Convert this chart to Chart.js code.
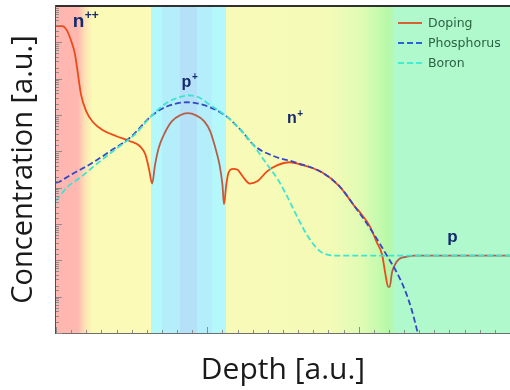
<!DOCTYPE html>
<html>
<head>
<meta charset="utf-8">
<script src="https://cdn.jsdelivr.net/npm/chart.js@4.4.0/dist/chart.umd.min.js"></script>
<style>
  html, body { margin: 0; padding: 0; background: #fff; }
  #wrap { width: 510px; height: 390px; }
</style>
</head>
<body>
<div id="wrap"><canvas id="chart"></canvas></div>
<script>
// depth (a.u., 0..3) and concentration (a.u., log axis)
const dopingX = [0, 0.04, 0.07, 0.10, 0.125, 0.145, 0.165, 0.20, 0.245, 0.31,
  0.40, 0.49, 0.555, 0.59, 0.615, 0.635, 0.655, 0.68, 0.72, 0.765,
  0.82, 0.87, 0.925, 0.98, 1.02, 1.05, 1.08, 1.10, 1.11, 1.125,
  1.14, 1.17, 1.20, 1.235, 1.28, 1.33, 1.395, 1.46, 1.545, 1.61,
  1.76, 1.875, 1.975, 2.01, 2.075, 2.12, 2.155, 2.175, 2.195, 2.205,
  2.22, 2.24, 2.27, 2.32, 2.37, 3.0];
const dopingY = [2.8e8, 2.8e8, 2.2e8, 1.1e8, 4.8e7, 1.35e7, 3.7e6, 1.26e6, 6.3e5, 3.8e5,
  2.6e5, 1.9e5, 1.38e5, 8.3e4, 3.2e4, 1.3e4, 4.4e4, 1.3e5, 3.3e5, 6.7e5,
  9.8e5, 1.12e6, 9.8e5, 6.7e5, 3.5e5, 1.38e5, 4.4e4, 1.2e4, 3.5e3, 1.2e4,
  2.6e4, 3.3e4, 3.1e4, 2.0e4, 1.3e4, 1.5e4, 2.8e4, 4.1e4, 5.0e4, 4.4e4,
  2.6e4, 1.07e4, 3.0e3, 2.05e3, 850, 310, 143, 46, 18.6, 18.6,
  46, 76, 110, 126, 134, 135];

const phosX = [0, 0.026, 0.06, 0.125, 0.225, 0.357, 0.49, 0.635, 0.735, 0.865,
  1.0, 1.125, 1.215, 1.315, 1.445, 1.58, 1.76, 1.875, 1.975, 2.09,
  2.195, 2.26, 2.305, 2.35, 2.39, 2.43];
const phosY = [1.38e4, 1.48e4, 1.8e4, 2.6e4, 4.4e4, 1.0e5, 2.4e5, 9.8e5, 1.74e6, 2.24e6,
  1.74e6, 9.3e5, 4.1e5, 1.38e5, 7.2e4, 5.0e4, 2.6e4, 1.07e4, 3.0e3, 615,
  118, 40, 15.5, 4.4, 1, 0.18];

const boronX = [0, 0.026, 0.07, 0.16, 0.29, 0.42, 0.52, 0.635, 0.735, 0.82,
  0.87, 0.94, 1.02, 1.125, 1.215, 1.315, 1.38, 1.465, 1.53, 1.58,
  1.665, 1.72, 1.76, 1.845, 3.0];
const boronY = [4.4e3, 6e3, 1.0e4, 1.9e4, 5.3e4, 1.38e5, 2.9e5, 9.8e5, 2.2e6, 3.1e6,
  3.5e6, 3.1e6, 1.86e6, 9.3e5, 4.1e5, 1.3e5, 5.3e4, 1.7e4, 5.5e3, 2.05e3,
  450, 224, 162, 135, 135];

// p-type stretches of depth (doping drawn in a browner tone there)
const pRanges = [[0.635, 1.11], [2.2, 3.0]];

// region labels
const regionText = ['n', 'p', 'n', 'p'];
const regionSup = ['++', '+', '+', ''];

const toPoints = (xs, ys) => xs.map((x, i) => ({ x, y: ys[i] }));
const inP = v => pRanges.some(r => v >= r[0] && v <= r[1]);

// background: colour stops along depth
const bgStops = [
  [0, '#ffb6b0'], [0.145, '#ffb8b0'], [0.19, '#fde2b4'], [0.24, '#fbfab7'],
  [0.63, '#fbfab7'], [0.63, '#b4f8fc'], [0.70, '#b4f8fc'], [0.70, '#b4eefa'],
  [0.82, '#b4eefa'], [0.82, '#b4e0f8'], [0.93, '#b4e0f8'], [0.93, '#b4eefa'],
  [1.03, '#b4eefa'], [1.03, '#b4f8fc'], [1.123, '#b4f8fc'], [1.123, '#f8fbb7'],
  [1.8, '#f4fbb7'], [2.02, '#e0fbb4'], [2.12, '#c8fbb0'], [2.2, '#b6f8a8'],
  [2.25, '#b0f9cc'], [3.0, '#b0f9cc']
];

const bands = {
  id: 'bands',
  beforeDatasetsDraw(chart) {
    const { ctx, chartArea: a, scales: { x } } = chart;
    const g = ctx.createLinearGradient(a.left, 0, a.right, 0);
    bgStops.forEach(([v, c]) => {
      const f = (x.getPixelForValue(v) - a.left) / (a.right - a.left);
      g.addColorStop(Math.min(1, Math.max(0, f)), c);
    });
    ctx.save();
    ctx.fillStyle = g;
    ctx.fillRect(a.left, a.top, a.right - a.left, a.bottom - a.top);
    ctx.restore();
  }
};

const decor = {
  id: 'decor',
  afterDraw(chart) {
    const { ctx, chartArea: a, scales: { x, y } } = chart;
    ctx.save();
    // inward ticks
    ctx.strokeStyle = '#8c8c8c';
    ctx.lineWidth = 1;
    ctx.beginPath();
    x.ticks.forEach(t => {
      const px = Math.round(x.getPixelForValue(t.value)) + 0.5;
      const len = Math.abs(t.value - Math.round(t.value)) < 1e-6 ? 6 : 3;
      ctx.moveTo(px, a.bottom);
      ctx.lineTo(px, a.bottom - len);
    });
    y.ticks.forEach(t => {
      const py = Math.round(y.getPixelForValue(t.value)) + 0.5;
      const lg = Math.log10(t.value);
      const len = Math.abs(lg - Math.round(lg)) < 1e-6 ? 6 : 3;
      ctx.moveTo(a.left, py);
      ctx.lineTo(a.left + len, py);
    });
    ctx.stroke();
    // top frame line
    ctx.strokeStyle = '#303030';
    ctx.lineWidth = 2;
    ctx.beginPath();
    ctx.moveTo(a.left, a.top);
    ctx.lineTo(a.right, a.top);
    ctx.stroke();

    // region labels
    const lx = [0.11, 0.83, 1.527, 2.585];
    const ly = [2.7e8, 5.9e6, 5.9e5, 325];
    const size = [19, 16, 16, 17];
    ctx.fillStyle = '#152a6c';
    ctx.textBaseline = 'alphabetic';
    regionText.forEach((s, i) => {
      const px = x.getPixelForValue(lx[i]);
      const py = y.getPixelForValue(ly[i]);
      ctx.font = 'bold ' + size[i] + 'px "Liberation Sans", Arial, sans-serif';
      ctx.fillText(s, px, py);
      const w = ctx.measureText(s).width;
      if (regionSup[i]) {
        ctx.font = 'bold ' + Math.round(size[i] * 0.62) + 'px "Liberation Sans", Arial, sans-serif';
        ctx.fillText(regionSup[i], px + w + 0.5, py - size[i] * 0.42);
      }
    });

    // legend
    const lxs = a.right - 112, lys = a.top + 17;
    ctx.font = '12.5px "DejaVu Sans", sans-serif';
    ctx.textBaseline = 'middle';
    chart.data.datasets.forEach((ds, i) => {
      const yy = lys + i * 20;
      ctx.strokeStyle = ds.legendColor;
      ctx.lineWidth = 1.8;
      ctx.setLineDash(ds.borderDash || []);
      ctx.beginPath();
      ctx.moveTo(lxs, yy);
      ctx.lineTo(lxs + 24, yy);
      ctx.stroke();
      ctx.setLineDash([]);
      ctx.fillStyle = '#2b6244';
      ctx.fillText(ds.label, lxs + 30, yy + 0.5);
    });
    ctx.restore();
  }
};

new Chart(document.getElementById('chart'), {
  type: 'line',
  data: {
    datasets: [
      {
        label: 'Doping',
        data: toPoints(dopingX, dopingY),
        borderColor: '#ee4a18',
        legendColor: '#dd5020',
        borderWidth: 1.8,
        segment: {
          borderColor: c => inP((c.p0.parsed.x + c.p1.parsed.x) / 2) ? '#b65e48' : '#ee4a18'
        },
        order: 3
      },
      {
        label: 'Phosphorus',
        data: toPoints(phosX, phosY),
        borderColor: '#3448c8',
        legendColor: '#2a62d8',
        borderWidth: 1.8,
        borderDash: [6, 3],
        order: 2
      },
      {
        label: 'Boron',
        data: toPoints(boronX, boronY),
        borderColor: '#3ee4d2',
        legendColor: '#40eed2',
        borderWidth: 1.8,
        borderDash: [6, 3],
        order: 1
      }
    ]
  },
  options: {
    responsive: true,
    maintainAspectRatio: false,
    animation: false,
    layout: { padding: { top: 6, right: 0, left: 0, bottom: 0 } },
    elements: {
      point: { radius: 0 },
      line: { cubicInterpolationMode: 'monotone', fill: false }
    },
    plugins: {
      legend: { display: false },
      tooltip: { enabled: false }
    },
    scales: {
      x: {
        type: 'linear',
        min: 0,
        max: 3,
        ticks: { display: false, stepSize: 0.1 },
        grid: { display: false },
        border: { color: '#6e6e6e', width: 2 },
        title: {
          display: true,
          text: 'Depth [a.u.]',
          color: '#1a1a1a',
          font: { family: '"Open Sans", sans-serif', size: 30 },
          padding: { top: 0, bottom: 2 }
        },
        afterFit: s => { s.height = 57; }
      },
      y: {
        type: 'logarithmic',
        min: 1,
        max: 1e9,
        ticks: { display: false },
        grid: { display: false },
        border: { color: '#505050', width: 2 },
        title: {
          display: true,
          text: 'Concentration [a.u.]',
          color: '#1a1a1a',
          font: { family: '"Open Sans", sans-serif', size: 29 },
          padding: { top: 6, bottom: 0 }
        },
        afterFit: s => { s.width = 56; }
      }
    }
  },
  plugins: [bands, decor]
});
</script>
</body>
</html>
